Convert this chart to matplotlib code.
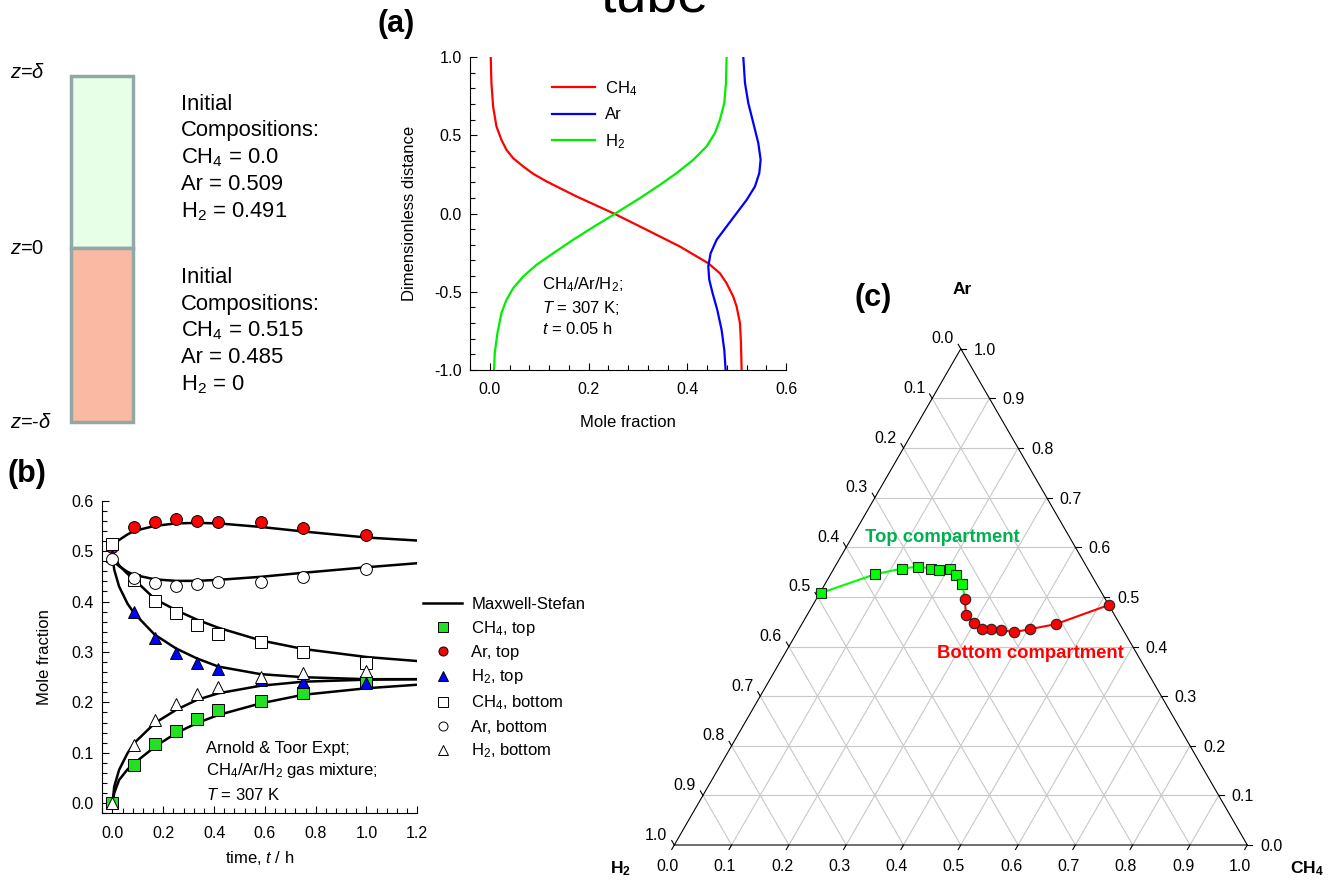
import numpy as np
import matplotlib
matplotlib.use("Agg")
import matplotlib.pyplot as plt
from matplotlib.lines import Line2D
from matplotlib.patches import Rectangle
from matplotlib.ticker import MultipleLocator, FormatStrFormatter

plt.rcParams["font.family"] = ["Liberation Sans", "DejaVu Sans"]
plt.rcParams["mathtext.fontset"] = "custom"
plt.rcParams["mathtext.rm"] = "Liberation Sans"
plt.rcParams["mathtext.it"] = "Liberation Sans:italic"
plt.rcParams["mathtext.bf"] = "Liberation Sans:bold"
plt.rcParams["mathtext.default"] = "regular"
plt.rcParams["axes.unicode_minus"] = False

W, H = 1336, 886

# ---- panel (a): profiles at t = 0.05 h ----
ch4_prof_x = [0.0020, 0.0034, 0.0068, 0.0135, 0.0236, 0.0338, 0.0473, 0.0676, 0.0878, 0.1149,
              0.1757, 0.2500, 0.3176, 0.3851, 0.4426, 0.4662, 0.4797, 0.4932, 0.5000, 0.5068,
              0.5088, 0.5101]
ch4_prof_z = [1.000, 0.834, 0.684, 0.557, 0.471, 0.407, 0.354, 0.301, 0.254, 0.205,
              0.109, 0.002, -0.104, -0.211, -0.318, -0.382, -0.446, -0.531, -0.595, -0.701,
              -0.829, -1.000]
h2_prof_x = [0.4797, 0.4784, 0.4750, 0.4662, 0.4561, 0.4392, 0.4122, 0.3784, 0.3446, 0.3041,
             0.2770, 0.2500, 0.2095, 0.1689, 0.1284, 0.0946, 0.0676, 0.0473, 0.0338, 0.0236,
             0.0155, 0.0101, 0.0088]
h2_prof_z = [1.000, 0.834, 0.706, 0.599, 0.514, 0.429, 0.343, 0.258, 0.183, 0.098,
             0.045, -0.009, -0.087, -0.168, -0.254, -0.328, -0.403, -0.478, -0.552, -0.637,
             -0.765, -0.893, -1.000]
ar_prof_x = [0.5135, 0.5169, 0.5236, 0.5338, 0.5439, 0.5486, 0.5459, 0.5372, 0.5203, 0.5000,
             0.4797, 0.4595, 0.4473, 0.4426, 0.4446, 0.4514, 0.4608, 0.4696, 0.4750, 0.4777]
ar_prof_z = [1.000, 0.834, 0.706, 0.578, 0.450, 0.343, 0.258, 0.173, 0.087, 0.002,
             -0.083, -0.168, -0.254, -0.339, -0.424, -0.510, -0.616, -0.744, -0.872, -1.000]

# ---- panel (b): Arnold & Toor experiment ----
t_expt = [0.0, 1/12, 1/6, 1/4, 1/3, 5/12, 7/12, 3/4, 1.0]
ch4_top = [0.0, 0.076, 0.118, 0.143, 0.168, 0.184, 0.202, 0.218, 0.240]
ar_top = [0.509, 0.548, 0.558, 0.563, 0.560, 0.557, 0.558, 0.546, 0.531]
h2_top = [0.491, 0.380, 0.327, 0.297, 0.278, 0.266, 0.245, 0.240, 0.238]
ch4_bot = [0.515, 0.443, 0.402, 0.378, 0.353, 0.336, 0.319, 0.299, 0.278]
ar_bot = [0.485, 0.446, 0.436, 0.430, 0.435, 0.438, 0.438, 0.449, 0.465]
h2_bot = [0.0, 0.116, 0.165, 0.196, 0.216, 0.231, 0.251, 0.258, 0.263]

t_ms = [0, 0.007, 0.026, 0.059, 0.085, 0.167, 0.25, 0.333, 0.417, 0.583, 0.75, 1.0, 1.2]
ms_ar_top = [0.509, 0.514, 0.522, 0.533, 0.540, 0.550, 0.555, 0.556, 0.555, 0.548, 0.539, 0.527, 0.521]
ms_ar_bot = [0.485, 0.479, 0.470, 0.459, 0.453, 0.444, 0.441, 0.441, 0.443, 0.449, 0.457, 0.468, 0.476]
ms_ch4_bot = [0.515, 0.487, 0.472, 0.455, 0.444, 0.405, 0.383, 0.364, 0.348, 0.323, 0.306, 0.290, 0.282]
ms_h2_top = [0.491, 0.463, 0.430, 0.396, 0.377, 0.334, 0.307, 0.287, 0.271, 0.256, 0.250, 0.246, 0.246]
ms_h2_bot = [0.0, 0.033, 0.066, 0.099, 0.119, 0.159, 0.185, 0.205, 0.218, 0.233, 0.241, 0.245, 0.246]
ms_ch4_top = [0.0, 0.020, 0.046, 0.067, 0.079, 0.112, 0.139, 0.159, 0.175, 0.198, 0.215, 0.228, 0.235]

# ---- panel (c): composition trajectories (CH4, Ar) ----
tern_top_ch4 = [0.002, 0.078, 0.119, 0.144, 0.170, 0.185, 0.203, 0.220, 0.239]
tern_top_ar = [0.508, 0.546, 0.557, 0.561, 0.557, 0.554, 0.556, 0.544, 0.527]
tern_bot_ch4 = [0.517, 0.443, 0.403, 0.379, 0.354, 0.336, 0.319, 0.300, 0.277, 0.259]
tern_bot_ar = [0.484, 0.445, 0.435, 0.429, 0.433, 0.435, 0.435, 0.447, 0.464, 0.496]
tern_ticks = [0.0, 0.1, 0.2, 0.3, 0.4, 0.5, 0.6, 0.7, 0.8, 0.9, 1.0]


def fx(px):
    return px / W


def fy(py):
    return 1 - py / H


def style_axes(ax):
    ax.spines["top"].set_visible(False)
    ax.spines["right"].set_visible(False)
    for s in ("left", "bottom"):
        ax.spines[s].set_linewidth(0.8)
    ax.tick_params(which="both", direction="in", labelsize=11.5, width=0.8)
    ax.tick_params(which="major", length=5)
    ax.tick_params(which="minor", length=3.5)
    ax.tick_params(axis="x", pad=8.5)
    ax.tick_params(axis="y", pad=6)


fig = plt.figure(figsize=(W / 100, H / 100), dpi=100)

# ---------------- schematic ----------------
fig.add_artist(Rectangle((fx(71), fy(248)), 62 / W, 172 / H, transform=fig.transFigure,
                         facecolor="#e6ffe6", edgecolor="#91a8a6", lw=2.5))
fig.add_artist(Rectangle((fx(71), fy(422)), 62 / W, 174 / H, transform=fig.transFigure,
                         facecolor="#f9b9a2", edgecolor="#91a8a6", lw=2.5))
fig.text(fx(10), fy(72), r"$\mathit{z}$=$\mathit{\delta}$", fontsize=14.5, va="center")
fig.text(fx(10), fy(248), r"$\mathit{z}$=0", fontsize=14.5, va="center")
fig.text(fx(10), fy(423), r"$\mathit{z}$=-$\mathit{\delta}$", fontsize=14.5, va="center")
top_lines = ["Initial", "Compositions:", "CH$_4$ = 0.0", "Ar = 0.509", "H$_2$ = 0.491"]
bot_lines = ["Initial", "Compositions:", "CH$_4$ = 0.515", "Ar = 0.485", "H$_2$ = 0"]
for i, s in enumerate(top_lines):
    fig.text(fx(181), fy(101.7 + 26.7 * i), s, fontsize=15.8, va="center_baseline")
for i, s in enumerate(bot_lines):
    fig.text(fx(181), fy(275 + 26.7 * i), s, fontsize=15.8, va="center_baseline")

fig.text(fx(600), fy(11), "tube", fontsize=40, va="baseline", ha="left")
fig.text(fx(396), fy(24), "(a)", fontsize=22, fontweight="bold", ha="center", va="center")
fig.text(fx(27), fy(474), "(b)", fontsize=22, fontweight="bold", ha="center", va="center")
fig.text(fx(873), fy(298), "(c)", fontsize=22, fontweight="bold", ha="center", va="center")

# ---------------- panel (a) ----------------
ax_a = fig.add_axes([fx(470), fy(370), 316 / W, 313 / H])
ax_a.plot(ch4_prof_x, ch4_prof_z, color="#ff0000", lw=1.6, label="CH$_4$")
ax_a.plot(ar_prof_x, ar_prof_z, color="#0000ff", lw=1.6, label="Ar")
ax_a.plot(h2_prof_x, h2_prof_z, color="#00ee00", lw=1.6, label="H$_2$")
ax_a.set_xlim(-0.04, 0.6)
ax_a.set_ylim(-1.0, 1.0)
ax_a.xaxis.set_major_locator(MultipleLocator(0.2))
ax_a.xaxis.set_minor_locator(MultipleLocator(0.04))
ax_a.yaxis.set_major_locator(MultipleLocator(0.5))
ax_a.yaxis.set_minor_locator(MultipleLocator(0.1))
ax_a.xaxis.set_major_formatter(FormatStrFormatter("%.1f"))
ax_a.yaxis.set_major_formatter(FormatStrFormatter("%.1f"))
style_axes(ax_a)
ax_a.set_xlabel("Mole fraction", fontsize=12)
ax_a.set_ylabel("Dimensionless distance", fontsize=12)
ax_a.xaxis.set_label_coords(0.5, -0.145)
ax_a.yaxis.set_label_coords(-0.168, 0.5)
ax_a.legend(loc="upper left", bbox_to_anchor=(fx(552), fy(79)), bbox_transform=fig.transFigure,
            frameon=False, fontsize=12, handlelength=2.6, handletextpad=0.6,
            labelspacing=0.58, borderpad=0, borderaxespad=0)
fig.text(fx(542), fy(282), "CH$_4$/Ar/H$_2$;", fontsize=12, va="center_baseline")
fig.text(fx(542), fy(306), r"$\mathit{T}$ = 307 K;", fontsize=12, va="center_baseline")
fig.text(fx(542), fy(328), r"$\mathit{t}$ = 0.05 h", fontsize=12, va="center_baseline")

# ---------------- panel (b) ----------------
ax_b = fig.add_axes([fx(102.3), fy(813.3), 315 / W, 312.6 / H])
for yv in (ms_ar_top, ms_ar_bot, ms_ch4_bot, ms_h2_top, ms_h2_bot, ms_ch4_top):
    ax_b.plot(t_ms, yv, color="black", lw=1.8, zorder=2)
mk = dict(linestyle="none", markeredgecolor="black", markeredgewidth=0.7, zorder=3)
ax_b.plot(t_expt, ch4_top, marker="s", markersize=8, markerfacecolor="#22e022", **mk)
ax_b.plot(t_expt, ar_top, marker="o", markersize=8.5, markerfacecolor="#ff0000", **mk)
ax_b.plot(t_expt, h2_top, marker="^", markersize=8.5, markerfacecolor="#0000ff", **mk)
ax_b.plot(t_expt, ch4_bot, marker="s", markersize=8, markerfacecolor="white", **mk)
ax_b.plot(t_expt, ar_bot, marker="o", markersize=8.5, markerfacecolor="white", **mk)
ax_b.plot(t_expt, h2_bot, marker="^", markersize=8.5, markerfacecolor="white", **mk)
ax_b.set_xlim(-0.04, 1.2)
ax_b.set_ylim(-0.02, 0.6)
ax_b.xaxis.set_major_locator(MultipleLocator(0.2))
ax_b.xaxis.set_minor_locator(MultipleLocator(0.04))
ax_b.yaxis.set_major_locator(MultipleLocator(0.1))
ax_b.yaxis.set_minor_locator(MultipleLocator(0.02))
ax_b.xaxis.set_major_formatter(FormatStrFormatter("%.1f"))
ax_b.yaxis.set_major_formatter(FormatStrFormatter("%.1f"))
style_axes(ax_b)
ax_b.tick_params(axis="x", pad=9.5)
ax_b.set_xlabel(r"time, $\mathit{t}$ / h", fontsize=12)
ax_b.set_ylabel("Mole fraction", fontsize=12)
ax_b.xaxis.set_label_coords(0.5, -0.114)
ax_b.yaxis.set_label_coords(-0.16, 0.5)
fig.text(fx(206), fy(747), "Arnold & Toor Expt;", fontsize=12, va="center_baseline")
fig.text(fx(206), fy(768), "CH$_4$/Ar/H$_2$ gas mixture;", fontsize=12, va="center_baseline")
fig.text(fx(206), fy(793), r"$\mathit{T}$ = 307 K", fontsize=12, va="center_baseline")

lmk = dict(linestyle="none", markeredgecolor="black", markeredgewidth=0.7, markersize=6.5)
handles = [
    Line2D([], [], color="black", lw=1.8, label="Maxwell-Stefan"),
    Line2D([], [], marker="s", markerfacecolor="#22e022", label="CH$_4$, top", **lmk),
    Line2D([], [], marker="o", markerfacecolor="#ff0000", label="Ar, top", **lmk),
    Line2D([], [], marker="^", markerfacecolor="#0000ff", label="H$_2$, top", **lmk),
    Line2D([], [], marker="s", markerfacecolor="white", label="CH$_4$, bottom", **lmk),
    Line2D([], [], marker="o", markerfacecolor="white", label="Ar, bottom", **lmk),
    Line2D([], [], marker="^", markerfacecolor="white", label="H$_2$, bottom", **lmk),
]
ax_b.legend(handles=handles, loc="upper left", bbox_to_anchor=(fx(423), fy(597)),
            bbox_transform=fig.transFigure, frameon=False, fontsize=12, handlelength=2.35,
            handletextpad=0.55, labelspacing=0.43, borderpad=0, borderaxespad=0)

# ---------------- panel (c): ternary ----------------
s3 = np.sqrt(3) / 2
ax_c = fig.add_axes([fx(674.3), fy(845), 573 / W, 496.2 / H])
ax_c.set_xlim(0, 1)
ax_c.set_ylim(0, s3)
ax_c.axis("off")


def tern(ch4, ar):
    ch4 = np.asarray(ch4, dtype=float)
    ar = np.asarray(ar, dtype=float)
    return ch4 + 0.5 * ar, s3 * ar


grid_kw = dict(color="#c8c8c8", lw=0.8, zorder=1)
for k in tern_ticks[1:-1]:
    ax_c.plot(*tern([0, 1 - k], [k, k]), **grid_kw)          # constant Ar
    ax_c.plot(*tern([k, k], [0, 1 - k]), **grid_kw)          # constant CH4
    ax_c.plot(*tern([1 - k, 0], [0, 1 - k]), **grid_kw)      # constant H2
ax_c.plot(*tern([0, 1, 0, 0], [0, 0, 1, 0]), color="black", lw=0.8, zorder=2, clip_on=False)

tl = 0.009
tk = dict(color="black", lw=0.8, clip_on=False)
for k in tern_ticks:
    lab = f"{k:.1f}"
    x0, y0 = tern(k, 0)
    ax_c.plot([x0, x0 - 0.5 * tl], [y0, y0 - s3 * tl], **tk)
    ax_c.annotate(lab, (x0, y0), xytext=(-5, -15.6), textcoords="offset points",
                  ha="center", va="center", fontsize=11.5, annotation_clip=False)
    x0, y0 = tern(1 - k, k)
    ax_c.plot([x0, x0 + tl], [y0, y0], **tk)
    ax_c.annotate(lab, (x0, y0), xytext=(9.4, 0), textcoords="offset points",
                  ha="left", va="center_baseline", fontsize=11.5, annotation_clip=False)
    x0, y0 = tern(0, 1 - k)
    ax_c.plot([x0, x0 - 0.5 * tl], [y0, y0 + s3 * tl], **tk)
    ax_c.annotate(lab, (x0, y0), xytext=(-13, 7.2), textcoords="offset points",
                  ha="center", va="center", fontsize=11.5, annotation_clip=False)

gx, gy = tern(tern_top_ch4 + tern_bot_ch4[-1:], tern_top_ar + tern_bot_ar[-1:])
ax_c.plot(gx, gy, color="#00ff00", lw=1.5, zorder=3, clip_on=False)
rx, ry = tern(tern_bot_ch4, tern_bot_ar)
ax_c.plot(rx, ry, color="#ff0000", lw=1.5, zorder=3, clip_on=False)
tx, ty = tern(tern_top_ch4, tern_top_ar)
ax_c.plot(tx, ty, linestyle="none", marker="s", markersize=7, markerfacecolor="#00ff00",
          markeredgecolor="#222222", markeredgewidth=0.8, zorder=4, clip_on=False)
ax_c.plot(rx, ry, linestyle="none", marker="o", markersize=7.5, markerfacecolor="#ff0000",
          markeredgecolor="#222222", markeredgewidth=0.8, zorder=4, clip_on=False)

fig.text(fx(942), fy(538), "Top compartment", color="#00b050", fontsize=13.3,
         fontweight="bold", ha="center", va="center")
fig.text(fx(1030), fy(654), "Bottom compartment", color="#ff0000", fontsize=13.3,
         fontweight="bold", ha="center", va="center")
fig.text(fx(962), fy(290), "Ar", fontsize=12.5, fontweight="bold", ha="center", va="center")
fig.text(fx(620), fy(869), "H$_2$", fontsize=12.5, fontweight="bold", ha="center", va="center")
fig.text(fx(1307), fy(869), "CH$_4$", fontsize=12.5, fontweight="bold", ha="center", va="center")

fig.savefig("out.png", dpi=100)
